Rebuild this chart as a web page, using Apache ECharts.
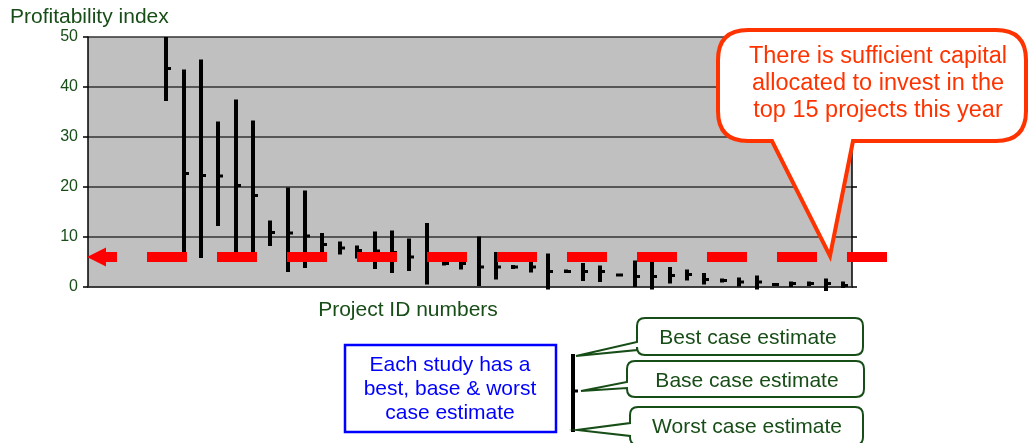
<!DOCTYPE html>
<html>
<head>
<meta charset="utf-8">
<script src="https://cdn.jsdelivr.net/npm/echarts@6/dist/echarts.min.js"></script>
<style>
  body { margin: 0; background: #fff; }
  #main { width: 1029px; height: 443px; }
</style>
</head>
<body>
<div id="main"></div>
<script>
// project ids (first four are above 50, off the chart)
var projectIds = ['P01','P02','P03','P04','P05','P06','P07','P08','P09','P10',
                  'P11','P12','P13','P14','P15','P16','P17','P18','P19','P20',
                  'P21','P22','P23','P24','P25','P26','P27','P28','P29','P30',
                  'P31','P32','P33','P34','P35','P36','P37','P38','P39','P40',
                  'P41','P42','P43','P44'];
// best / base / worst case profitability index
var bestCase  = [null, null, null, null, 50, 43.5, 45.5, 33.1, 37.5, 33.3,
                 13.3, 19.9, 19.3, 10.8, 9.1, 8.3, 11.1, 11.3, 9.7, 12.8,
                 5.8, 5.8, 10.1, 7.0, 4.4, 5.5, 6.7, 3.5, 4.8, 4.3,
                 2.7, 5.3, 5.8, 4.0, 3.5, 2.8, 1.7, 1.9, 2.3, 0.8,
                 1.1, 1.1, 1.7, 1.1];
var baseCase  = [null, null, null, null, 43.7, 22.7, 22.3, 22.2, 20.3, 18.3,
                 10.9, 10.8, 10.2, 8.5, 7.8, 7.3, 7.2, 6.9, 6.0, 6.3,
                 4.7, 4.7, 4.0, 4.0, 4.0, 4.0, 3.1, 3.1, 3.1, 3.1,
                 2.4, 2.1, 2.1, 2.3, 2.5, 1.5, 1.3, 1.0, 1.0, 0.5,
                 0.7, 0.7, 0.7, 0.3];
var worstCase = [null, null, null, null, 37.2, 6.0, 5.8, 12.2, 6.0, 6.0,
                 8.2, 3.0, 3.8, 6.5, 6.5, 5.7, 3.6, 2.8, 3.2, 0.5,
                 4.3, 3.5, 0.2, 1.5, 3.6, 2.9, -0.5, 2.8, 1.2, 1.0,
                 2.1, 0.0, -0.5, 0.7, 1.3, 0.5, 0.9, 0.1, -0.5, 0.2,
                 0.0, 0.2, -0.8, -0.2];
var yTicks = [0, 10, 20, 30, 40, 50];
var capitalCutoff = 6;

var green = '#174d17';
var font = '"Liberation Sans", Arial, sans-serif';

var seriesData = [];
for (var i = 0; i < projectIds.length; i++) {
    if (bestCase[i] == null) continue;
    seriesData.push([i, worstCase[i], baseCase[i], bestCase[i]]);
}

// callout outlines as svg paths, registered as shapes for the graphic component
function callout(x0, y0, x1, y1, pTop, pBot, tipX, tipY) {
    var r = 8;
    return 'M' + (x0 + r) + ' ' + y0 + ' L' + (x1 - r) + ' ' + y0 +
        ' Q' + x1 + ' ' + y0 + ' ' + x1 + ' ' + (y0 + r) +
        ' L' + x1 + ' ' + (y1 - r) + ' Q' + x1 + ' ' + y1 + ' ' + (x1 - r) + ' ' + y1 +
        ' L' + (x0 + r) + ' ' + y1 + ' Q' + x0 + ' ' + y1 + ' ' + x0 + ' ' + (y1 - r) +
        ' L' + x0 + ' ' + pBot + ' L' + tipX + ' ' + tipY + ' L' + x0 + ' ' + pTop +
        ' L' + x0 + ' ' + (y0 + r) + ' Q' + x0 + ' ' + y0 + ' ' + (x0 + r) + ' ' + y0 + ' Z';
}
var bubblePath = 'M748 30 L996 30 Q1026 30 1026 60 L1026 111 Q1026 141 996 141 ' +
                 'L853 141 L830 256 L772 141 L748 141 Q718 141 718 111 L718 60 Q718 30 748 30 Z';
echarts.graphic.registerShape('bubble', echarts.graphic.extendPath(bubblePath, {}));
echarts.graphic.registerShape('bestCallout', echarts.graphic.extendPath(callout(637, 318, 863, 355, 342, 350, 576, 356), {}));
echarts.graphic.registerShape('baseCallout', echarts.graphic.extendPath(callout(627, 361, 864, 397, 382, 388, 581, 391), {}));
echarts.graphic.registerShape('worstCallout', echarts.graphic.extendPath(callout(630, 407, 863, 445, 423, 436, 577, 430), {}));

var myChart = echarts.init(document.getElementById('main'));
var option = {
    animation: false,
    grid: {
        left: 88, top: 37, width: 764, height: 250,
        show: true, backgroundColor: '#C0C0C0', borderWidth: 0
    },
    xAxis: {
        type: 'category',
        data: projectIds,
        axisLine: { lineStyle: { color: '#333', width: 1.5 } },
        axisTick: { show: false },
        axisLabel: { show: false }
    },
    yAxis: [{
        type: 'value',
        min: yTicks[0], max: yTicks[yTicks.length - 1], interval: 10,
        axisLine: { show: true, lineStyle: { color: '#000', width: 1.5 } },
        axisTick: { show: true, length: 5, lineStyle: { color: '#000', width: 1.5 } },
        axisLabel: { color: green, fontSize: 16, fontFamily: font, margin: 10, padding: [4, 0, 0, 0] },
        splitLine: { lineStyle: { color: '#333', width: 1.5 } }
    }, {
        type: 'value',
        position: 'right',
        min: yTicks[0], max: yTicks[yTicks.length - 1], interval: 10,
        axisLine: { show: true, lineStyle: { color: '#000', width: 1.5 } },
        axisTick: { show: true, length: 5, lineStyle: { color: '#000', width: 1.5 } },
        axisLabel: { show: false },
        splitLine: { show: false }
    }],
    series: [{
        name: 'Estimate range',
        type: 'custom',
        data: seriesData,
        renderItem: function (params, api) {
            var idx = api.value(0);
            var lo = api.coord([idx, api.value(1)]);
            var mid = api.coord([idx, api.value(2)]);
            var hi = api.coord([idx, api.value(3)]);
            var cx = Math.round(lo[0]);
            return {
                type: 'group',
                children: [{
                    type: 'rect',
                    shape: { x: cx - 2, y: hi[1], width: 4, height: lo[1] - hi[1] },
                    style: { fill: '#000' }
                }, {
                    type: 'rect',
                    shape: { x: cx + 2, y: mid[1] - 1.5, width: 3, height: 3 },
                    style: { fill: '#000' }
                }]
            };
        }
    }]
};
myChart.setOption(option);

// annotations
var lineY = myChart.convertToPixel({ yAxisIndex: 0 }, capitalCutoff);

myChart.setOption({
    graphic: [
        { type: 'text', x: 10, y: 17, style: { text: 'Profitability index', fill: green, font: '21px ' + font, verticalAlign: 'middle' } },
        { type: 'text', x: 408, y: 310, style: { text: 'Project ID numbers', fill: green, font: '21px ' + font, align: 'center', verticalAlign: 'middle' } },
        // capital cutoff line with arrow
        { type: 'line', z: 10, shape: { x1: 147, y1: lineY, x2: 888, y2: lineY },
          style: { stroke: '#FF0000', lineWidth: 10, lineDash: [40, 30], lineCap: 'butt' } },
        { type: 'polygon', z: 10, shape: { points: [[87, lineY], [106, lineY - 9.5], [106, lineY - 5], [117, lineY - 5],
                                                  [117, lineY + 5], [106, lineY + 5], [106, lineY + 9.5]] },
          style: { fill: '#FF0000' } },
        // speech bubble
        { type: 'bubble', z: 11, style: { fill: '#fff', stroke: '#FF3300', lineWidth: 4 } },
        { type: 'text', z: 12, x: 878, y: 84, style: {
            text: 'There is sufficient capital\nallocated to invest in the\ntop 15 projects this year',
            fill: '#FF3300', font: '23.5px ' + font, lineHeight: 27, align: 'center', verticalAlign: 'middle' } },
        // blue explanation box
        { type: 'rect', shape: { x: 345, y: 345, width: 211, height: 87 },
          style: { fill: '#fff', stroke: '#0000FF', lineWidth: 2.5 } },
        { type: 'text', x: 450, y: 389, style: {
            text: 'Each study has a\nbest, base & worst\ncase estimate',
            fill: '#0000FF', font: '21px ' + font, lineHeight: 24, align: 'center', verticalAlign: 'middle' } },
        // legend bar
        { type: 'rect', shape: { x: 571, y: 354, width: 4, height: 78 }, style: { fill: '#000' } },
        { type: 'rect', shape: { x: 575, y: 389.5, width: 3, height: 3 }, style: { fill: '#000' } },
        // green callouts
        { type: 'bestCallout', style: { fill: '#fff', stroke: green, lineWidth: 2 } },
        { type: 'text', x: 748, y: 338, style: { text: 'Best case estimate', fill: green, font: '21px ' + font, align: 'center', verticalAlign: 'middle' } },
        { type: 'baseCallout', style: { fill: '#fff', stroke: green, lineWidth: 2 } },
        { type: 'text', x: 747, y: 381, style: { text: 'Base case estimate', fill: green, font: '21px ' + font, align: 'center', verticalAlign: 'middle' } },
        { type: 'worstCallout', style: { fill: '#fff', stroke: green, lineWidth: 2 } },
        { type: 'text', x: 747, y: 427, style: { text: 'Worst case estimate', fill: green, font: '21px ' + font, align: 'center', verticalAlign: 'middle' } }
    ]
});
</script>
</body>
</html>
